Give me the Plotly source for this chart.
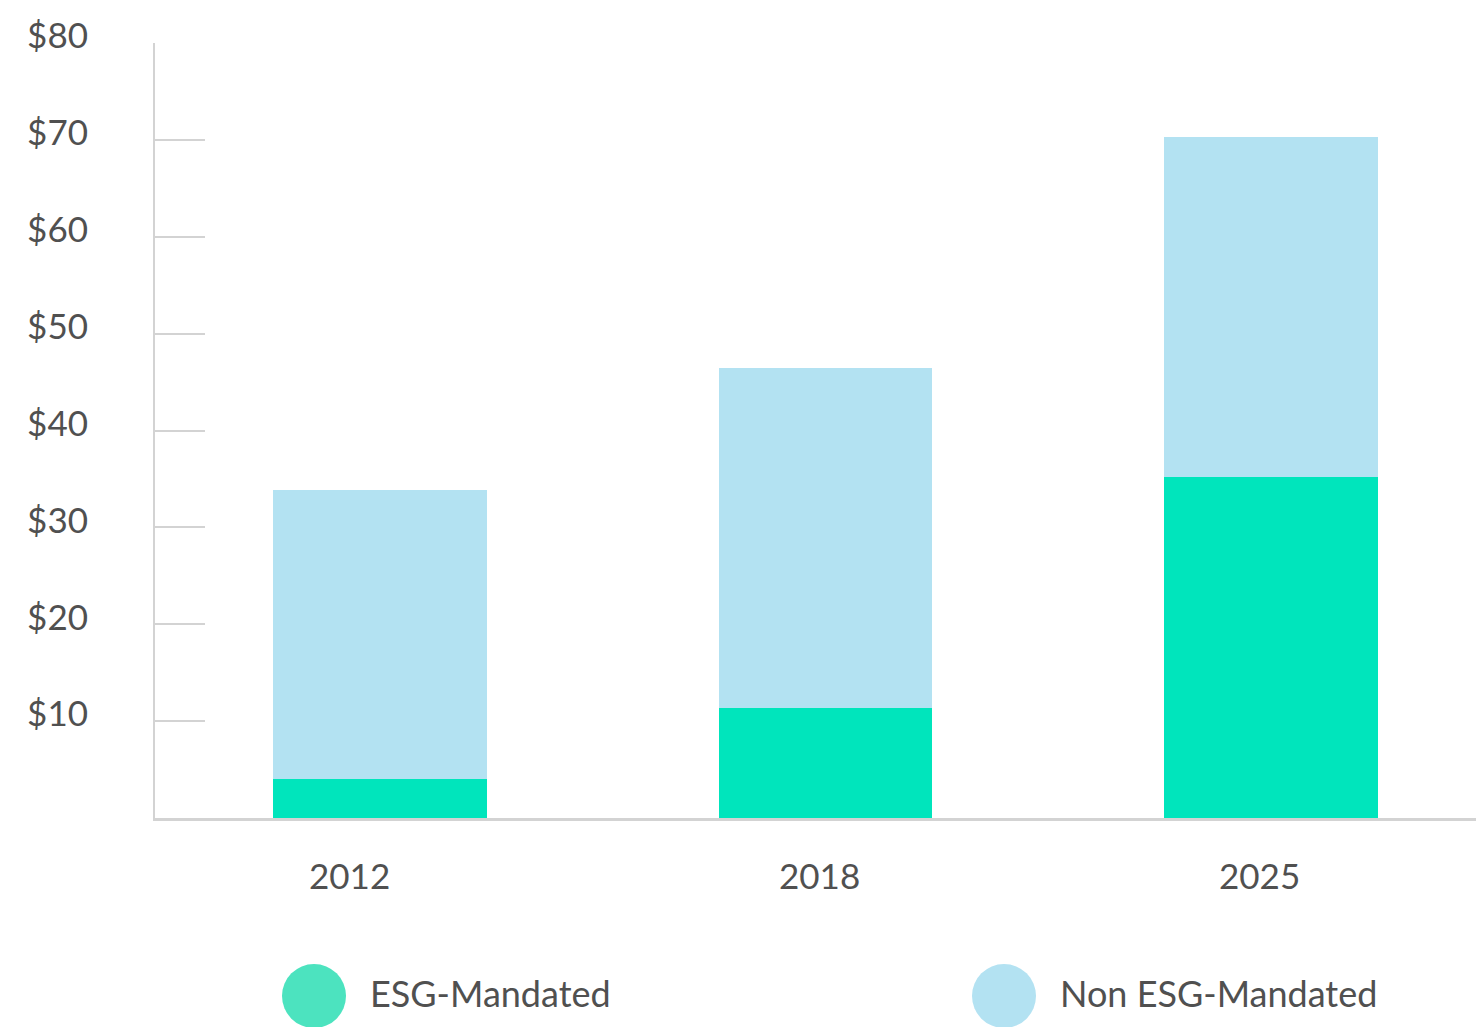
import plotly.graph_objects as go

years = ["2012", "2018", "2025"]
esg = [4.0, 11.4, 35.2]
non_esg = [29.9, 35.1, 35.1]
y_ticks = [10, 20, 30, 40, 50, 60, 70, 80]
y_tick_labels = ["$10", "$20", "$30", "$40", "$50", "$60", "$70", "$80"]
series_names = ["ESG-Mandated", "Non ESG-Mandated"]

ESG_COLOR = "#00E5BC"
NON_COLOR = "#B3E2F2"
LEG_ESG = "#4CE3BF"
TEXT = "#505050"
AXIS = "#D3D3D3"
FONT = "Lato"
FS = 35

# page body has an 8px margin, so the figure is placed 8px right/down
W, H = 1476, 1019
ML, MT, MB = 147, 35, 209
PW = W - ML
PH = H - MT - MB

fig = go.Figure()
fig.add_trace(go.Bar(x=years, y=esg, name=series_names[0], marker=dict(color=ESG_COLOR, line=dict(width=0)), width=0.48))
fig.add_trace(go.Bar(x=years, y=non_esg, name=series_names[1], marker=dict(color=NON_COLOR, line=dict(width=0)), width=0.48))

fig.update_layout(
    barmode="stack",
    width=W, height=H,
    margin=dict(l=ML, r=0, t=MT, b=MB, pad=0),
    paper_bgcolor="white", plot_bgcolor="white",
    showlegend=False,
    font=dict(family=FONT, color=TEXT, size=FS),
)
fig.update_xaxes(
    type="category", range=[-0.505, 2.478],
    showticklabels=False, ticks="", showgrid=False,
    showline=True, linecolor=AXIS, linewidth=3, zeroline=False,
)
fig.update_yaxes(
    range=[0, 80], tickvals=y_ticks, ticktext=y_tick_labels,
    ticks="inside", ticklen=50, tickwidth=2, tickcolor=AXIS,
    showline=True, linecolor=AXIS, linewidth=2, showgrid=False, zeroline=False,
    ticklabelstandoff=58, ticklabelshift=-7,
    tickfont=dict(family=FONT, size=FS, color=TEXT),
)

# year labels below the axis
label_shifts = [-30, -6, -12]
for i, (yr, sh) in enumerate(zip(years, label_shifts)):
    fig.add_annotation(x=i, y=0, xref="x", yref="y", text=yr, showarrow=False,
                       yanchor="middle", yshift=-57, xshift=sh,
                       font=dict(family=FONT, size=FS, color=TEXT))

# legend (page coords -> plot-area fractions)
def px_x(px):
    return (px - 8 - ML) / PW

def px_y(py):
    return (H - MB - (py - 8)) / PH

legend_items = [(series_names[0], LEG_ESG, 314), (series_names[1], NON_COLOR, 1004)]
for name, col, cx in legend_items:
    fig.add_shape(type="circle", xref="paper", yref="paper",
                  x0=px_x(cx - 32), x1=px_x(cx + 32),
                  y0=px_y(996 + 32), y1=px_y(996 - 32),
                  fillcolor=col, line=dict(width=0), layer="above")
    fig.add_annotation(xref="paper", yref="paper", x=px_x(cx + 54), y=px_y(993),
                       text=name, showarrow=False, xanchor="left", yanchor="middle",
                       font=dict(family=FONT, size=FS + 1, color=TEXT))

fig.write_html("out.html")
